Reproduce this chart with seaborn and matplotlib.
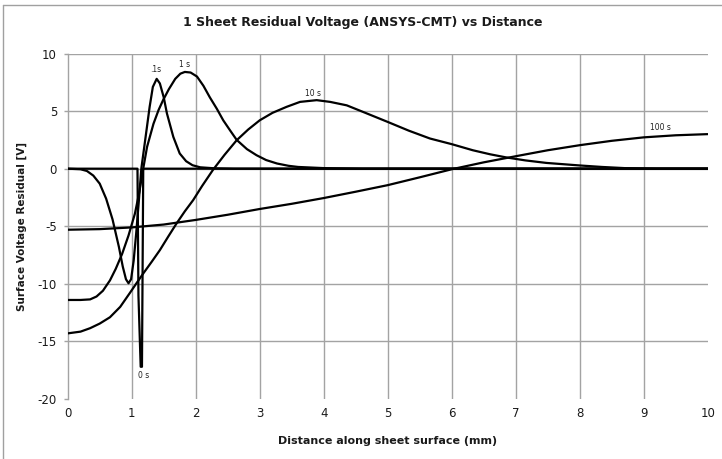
import matplotlib
matplotlib.use("Agg")
import matplotlib.pyplot as plt
import numpy as np
import pandas as pd
import seaborn as sns
from matplotlib.lines import Line2D

# Surface residual voltage (V) along the sheet (mm) at several times
x_0s = [0.0, 1.09, 1.105, 1.14, 1.16, 1.18, 10.0]
v_0s = [0.0, 0.0, -11.0, -17.2, -17.2, 0.0, 0.0]

x_01s = [0.0, 0.2, 0.3, 0.4, 0.5, 0.6, 0.7, 0.8, 0.86, 0.91, 0.95, 0.99, 1.03,
         1.07, 1.11, 1.15, 1.21, 1.28, 1.33, 1.39, 1.44, 1.50, 1.55, 1.65, 1.75,
         1.85, 1.95, 2.07, 2.3, 2.6, 10.0]
v_01s = [0.0, -0.05, -0.2, -0.6, -1.3, -2.6, -4.4, -6.8, -8.5, -9.6, -9.95, -9.6,
         -8.0, -5.6, -2.9, 0.0, 2.47, 5.37, 7.1, 7.8, 7.4, 6.2, 4.8, 2.76, 1.32,
         0.65, 0.3, 0.12, 0.03, 0.0, 0.0]

x_1s = [0.0, 0.2, 0.35, 0.45, 0.55, 0.66, 0.75, 0.85, 0.95, 1.05, 1.12, 1.17,
        1.24, 1.34, 1.42, 1.49, 1.58, 1.68, 1.76, 1.83, 1.92, 2.02, 2.12, 2.22,
        2.33, 2.43, 2.54, 2.64, 2.8, 2.95, 3.1, 3.27, 3.45, 3.6, 4.0, 4.6, 10.0]
v_1s = [-11.4, -11.4, -11.35, -11.1, -10.6, -9.7, -8.7, -7.4, -5.8, -3.9, -2.0,
        -0.3, 1.9, 3.9, 5.1, 5.95, 6.9, 7.8, 8.25, 8.4, 8.35, 8.0, 7.2, 6.2, 5.2,
        4.2, 3.3, 2.5, 1.7, 1.17, 0.75, 0.45, 0.25, 0.15, 0.05, 0.0, 0.0]

x_10s = [0.0, 0.2, 0.35, 0.5, 0.66, 0.82, 0.97, 1.08, 1.18, 1.31, 1.44, 1.57,
         1.70, 1.83, 1.96, 2.1, 2.27, 2.45, 2.64, 2.82, 3.0, 3.2, 3.42, 3.63,
         3.89, 4.1, 4.36, 4.65, 5.0, 5.33, 5.66, 6.0, 6.33, 6.6, 6.86, 7.15,
         7.48, 8.0, 8.35, 8.7, 9.2, 10.0]
v_10s = [-14.3, -14.15, -13.85, -13.45, -12.9, -12.0, -10.8, -9.9, -9.1, -8.1,
         -7.07, -5.9, -4.76, -3.7, -2.73, -1.5, -0.1, 1.2, 2.47, 3.4, 4.2, 4.85,
         5.37, 5.8, 5.95, 5.8, 5.5, 4.85, 4.06, 3.3, 2.62, 2.13, 1.6, 1.25, 0.97,
         0.72, 0.5, 0.28, 0.15, 0.05, 0.0, 0.0]

x_100s = [0.0, 0.5, 1.0, 1.5, 2.0, 2.5, 3.0, 3.5, 4.0, 4.5, 5.0, 5.5, 6.0, 6.5,
          7.0, 7.5, 8.0, 8.5, 9.0, 9.5, 10.0]
v_100s = [-5.3, -5.25, -5.1, -4.85, -4.45, -4.0, -3.5, -3.05, -2.55, -2.0, -1.43,
          -0.75, -0.05, 0.55, 1.08, 1.6, 2.04, 2.42, 2.72, 2.9, 3.0]

series_names = ["0 s", ".1s", "1 s", "10 s", "100 s"]
series_x = [x_0s, x_01s, x_1s, x_10s, x_100s]
series_v = [v_0s, v_01s, v_1s, v_10s, v_100s]

x_ticks = [0, 1, 2, 3, 4, 5, 6, 7, 8, 9, 10]
y_ticks = [-20, -15, -10, -5, 0, 5, 10]

df = pd.concat(
    [pd.DataFrame({"distance": xs, "voltage": vs, "time": name})
     for name, xs, vs in zip(series_names, series_x, series_v)],
    ignore_index=True,
)

sns.set_theme(style="white")
plt.rcParams["font.family"] = ["DejaVu Sans"]

fig = plt.figure(figsize=(7.22, 4.59), dpi=100)
ax = fig.add_axes([0.0938, 0.1307, 0.8864, 0.7527])

grid_color = "#a3a3a3"
sns.lineplot(data=df, x="distance", y="voltage", units="time", estimator=None,
             sort=False, color="black", linewidth=1.6, legend=False, ax=ax,
             zorder=3)

ax.set_xlim(0, 10)
ax.set_ylim(-20, 10)
ax.set_xticks(x_ticks)
ax.set_yticks(y_ticks)
ax.set_xticklabels([str(t) for t in x_ticks])
ax.set_yticklabels([str(t) for t in y_ticks])

# grid: horizontal lines above -20, vertical lines between the two ends
ax.grid(True, color=grid_color, linewidth=1.0)
for tick, line in zip(y_ticks, ax.get_ygridlines()):
    if tick == -20:
        line.set_visible(False)
for tick, line in zip(x_ticks, ax.get_xgridlines()):
    if tick in (0, 10):
        line.set_visible(False)

for side in ("top", "right", "bottom"):
    ax.spines[side].set_visible(False)
ax.spines["left"].set_color(grid_color)
ax.spines["left"].set_linewidth(1.0)

ax.tick_params(axis="y", which="major", direction="out", length=3.2, width=1.0,
               color=grid_color, pad=4.5, labelsize=8.5, labelcolor="#1a1a1a",
               left=True)
ax.tick_params(axis="x", which="major", length=0, pad=6, labelsize=8.5,
               labelcolor="#1a1a1a")

ax.set_xlabel("Distance along sheet surface (mm)", fontsize=8, fontweight="bold",
              color="#1a1a1a", labelpad=11)
ax.set_ylabel("Surface Voltage Residual [V]", fontsize=7.5, fontweight="bold",
              color="#1a1a1a", labelpad=8)
fig.text(0.503, 0.952, "1 Sheet Residual Voltage (ANSYS-CMT) vs Distance",
         ha="center", va="center", fontsize=9, fontweight="bold", color="#1a1a1a")

# time labels next to each curve
label_offsets = {".1s": (-1, 6.5), "1 s": (0, 5.5), "10 s": (-3, 4.5),
                 "0 s": (2, -6)}
for name, xs, vs in zip(series_names, series_x, series_v):
    xs_a, vs_a = np.asarray(xs), np.asarray(vs)
    if name == "100 s":
        i = int(np.argmin(np.abs(xs_a - 9.0)))
        xy, off = (xs_a[i], vs_a[i]), (12, 7)
    elif name == "0 s":
        i = int(np.argmin(vs_a))
        xy, off = (xs_a[i], vs_a[i]), label_offsets[name]
    else:
        i = int(np.argmax(vs_a))
        xy, off = (xs_a[i], vs_a[i]), label_offsets[name]
    ax.annotate(name, xy=xy, xytext=off, textcoords="offset points",
                ha="center", va="center", fontsize=5.5, color="#202020",
                zorder=4)

# outer chart frame
fig.add_artist(Line2D([3 / 722, 3 / 722], [0, 1 - 5 / 459], transform=fig.transFigure,
                      color="#a0a0a0", linewidth=1.0))
fig.add_artist(Line2D([3 / 722, 1], [1 - 5 / 459, 1 - 5 / 459], transform=fig.transFigure,
                      color="#a0a0a0", linewidth=1.0))

fig.savefig("out.png", dpi=100)
